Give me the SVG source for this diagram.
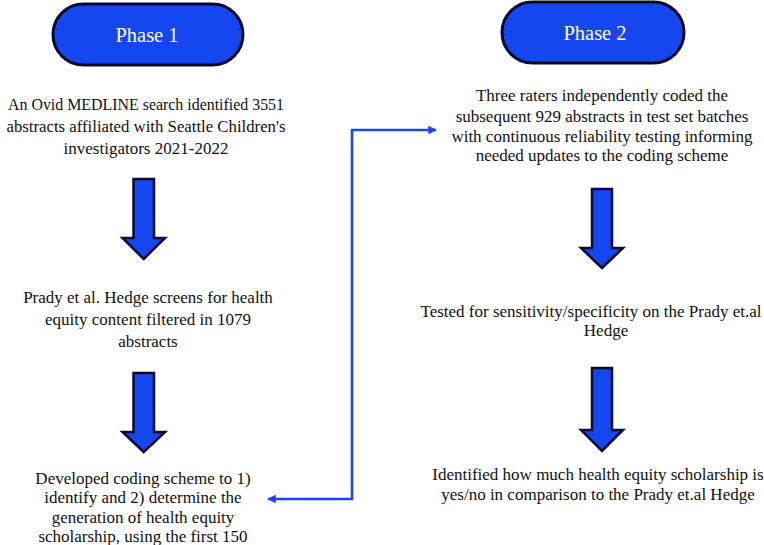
<svg xmlns="http://www.w3.org/2000/svg" width="764" height="545" viewBox="0 0 764 545">
<style>
.pill{fill:#1447f0;stroke:#0c0a2c;stroke-width:3}
.pt{font-family:"Liberation Serif","DejaVu Serif",serif;font-size:20.5px;fill:#ffffff;text-anchor:middle}
.t{font-family:"Liberation Serif","DejaVu Serif",serif;font-size:17px;fill:#111111;text-anchor:middle}
.arr{fill:#1447f0;stroke:#0c0a2c;stroke-width:2.5;stroke-linejoin:miter}
.con{fill:none;stroke:#1a47f5;stroke-width:2.6}
</style>
<defs>
<marker id="ah" viewBox="0 0 10 10" refX="9" refY="5" markerWidth="3.3" markerHeight="3.3" orient="auto-start-reverse" markerUnits="strokeWidth">
<path d="M0,0 L10,5 L0,10 z" fill="#1a47f5"/>
</marker>
</defs>
<rect width="764" height="545" fill="#ffffff"/>
<g id="phase1">
<rect class="pill" x="53" y="4" width="190" height="61" rx="30.5"/>
<text class="pt" x="147" y="42">Phase 1</text>
</g>
<g id="phase2">
<rect class="pill" x="502" y="2" width="182" height="61" rx="30.5"/>
<text class="pt" x="595" y="40">Phase 2</text>
</g>
<g id="step1">
<text class="t" x="146" y="110" textLength="276" lengthAdjust="spacingAndGlyphs">An Ovid MEDLINE search identified 3551</text>
<text class="t" x="146" y="132" textLength="279" lengthAdjust="spacingAndGlyphs">abstracts affiliated with Seattle Children's</text>
<text class="t" x="146" y="154">investigators 2021-2022</text>
</g>
<g id="step2">
<text class="t" x="148" y="303">Prady et al. Hedge screens for health</text>
<text class="t" x="148" y="325">equity content filtered in 1079</text>
<text class="t" x="148" y="347">abstracts</text>
</g>
<g id="step3">
<text class="t" x="143" y="484">Developed coding scheme to 1)</text>
<text class="t" x="143" y="503">identify and 2) determine the</text>
<text class="t" x="143" y="523">generation of health equity</text>
<text class="t" x="143" y="542">scholarship, using the first 150</text>
</g>
<g id="step4">
<text class="t" x="602" y="101">Three raters independently coded the</text>
<text class="t" x="602" y="122">subsequent 929 abstracts in test set batches</text>
<text class="t" x="602" y="142">with continuous reliability testing informing</text>
<text class="t" x="602" y="161">needed updates to the coding scheme</text>
</g>
<g id="step5">
<text class="t" x="591" y="317">Tested for sensitivity/specificity on the Prady et.al</text>
<text class="t" x="606" y="336">Hedge</text>
</g>
<g id="step6">
<text class="t" x="598" y="480">Identified how much health equity scholarship is</text>
<text class="t" x="598" y="500">yes/no in comparison to the Prady et.al Hedge</text>
</g>
<g id="arrow1">
<polygon class="arr" points="133.5,179 154,179 154,238 165,238 143.75,259 122.5,238 133.5,238"/>
</g>
<g id="arrow2">
<polygon class="arr" points="133.5,373 154,373 154,432 165,432 143.75,452 122.5,432 133.5,432"/>
</g>
<g id="arrow3">
<polygon class="arr" points="592,189 612,189 612,248 623,248 602,268 581,248 592,248"/>
</g>
<g id="arrow4">
<polygon class="arr" points="592,368 612,368 612,430 623,430 602,451 581,430 592,430"/>
</g>
<g id="connectors">
<path class="con" d="M268,499 H352 V130 H436" marker-start="url(#ah)" marker-end="url(#ah)"/>
</g>
</svg>
